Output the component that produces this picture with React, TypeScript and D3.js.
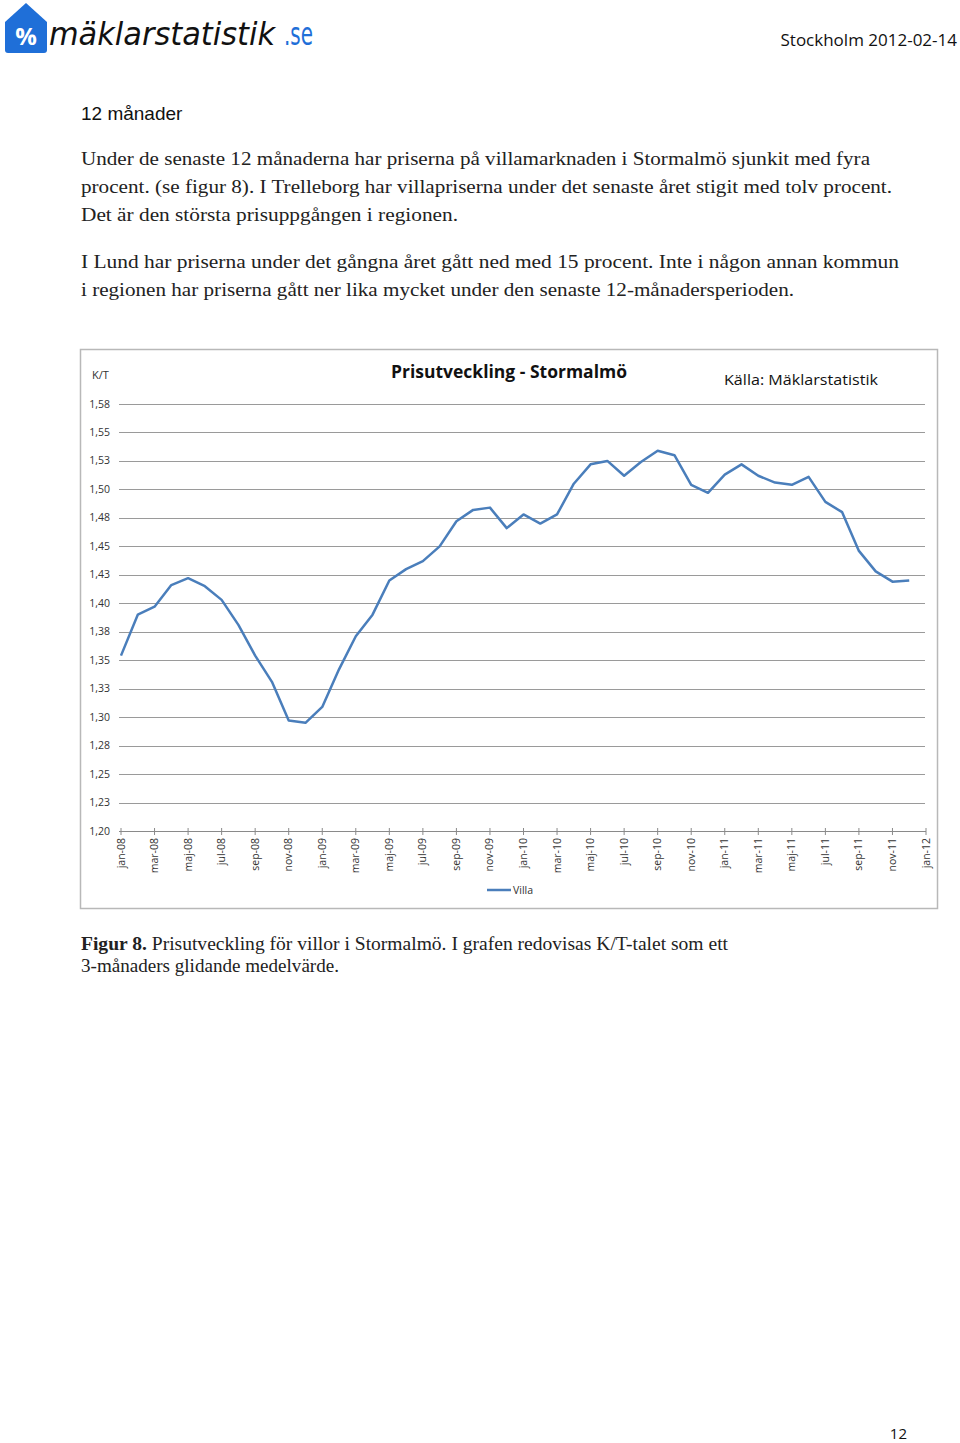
import React from 'react';
import * as d3 from 'd3';

// K/T-tal, 3-månaders glidande medelvärde, villa Stormalmö, jan-08 .. dec-11
const months = [
  'jan-08','feb-08','mar-08','apr-08','maj-08','jun-08','jul-08','aug-08','sep-08','okt-08','nov-08','dec-08',
  'jan-09','feb-09','mar-09','apr-09','maj-09','jun-09','jul-09','aug-09','sep-09','okt-09','nov-09','dec-09',
  'jan-10','feb-10','mar-10','apr-10','maj-10','jun-10','jul-10','aug-10','sep-10','okt-10','nov-10','dec-10',
  'jan-11','feb-11','mar-11','apr-11','maj-11','jun-11','jul-11','aug-11','sep-11','okt-11','nov-11','dec-11',
];
const villa = [
  1.354, 1.390, 1.397, 1.416, 1.422, 1.415, 1.403, 1.381, 1.354, 1.331, 1.297, 1.295,
  1.309, 1.342, 1.371, 1.390, 1.420, 1.430, 1.437, 1.450, 1.472, 1.482, 1.484, 1.466,
  1.478, 1.470, 1.478, 1.505, 1.522, 1.525, 1.512, 1.524, 1.534, 1.530, 1.504, 1.497,
  1.513, 1.522, 1.512, 1.506, 1.504, 1.511, 1.489, 1.480, 1.446, 1.428, 1.419, 1.420,
];
const xTickLabels = [
  'jan-08','mar-08','maj-08','jul-08','sep-08','nov-08','jan-09','mar-09','maj-09','jul-09','sep-09','nov-09',
  'jan-10','mar-10','maj-10','jul-10','sep-10','nov-10','jan-11','mar-11','maj-11','jul-11','sep-11','nov-11','jan-12',
];
const yTickValues = [1.2, 1.225, 1.25, 1.275, 1.3, 1.325, 1.35, 1.375, 1.4, 1.425, 1.45, 1.475, 1.5, 1.525, 1.55, 1.575];
const yTickLabels = ['1,20','1,23','1,25','1,28','1,30','1,33','1,35','1,38','1,40','1,43','1,45','1,48','1,50','1,53','1,55','1,58'];

const bodyLines = [
  { t: 'Under de senaste 12 månaderna har priserna på villamarknaden i Stormalmö sjunkit med fyra', y: 165, w: 789 },
  { t: 'procent. (se figur 8). I Trelleborg har villapriserna under det senaste året stigit med tolv procent.', y: 193, w: 811 },
  { t: 'Det är den största prisuppgången i regionen.', y: 221, w: 377 },
  { t: 'I Lund har priserna under det gångna året gått ned med 15 procent. Inte i någon annan kommun', y: 268, w: 818 },
  { t: 'i regionen har priserna gått ner lika mycket under den senaste 12-månadersperioden.', y: 296, w: 713 },
];

export default function App() {
  const x = d3.scaleLinear().domain([0, 48]).range([121, 926]);
  const y = d3.scaleLinear().domain([1.2, 1.575]).range([831, 404]);
  const line = d3.line<number>().x((_, i) => x(i)).y(d => y(d));
  const sans = 'Open Sans, Liberation Sans, sans-serif';
  const serif = 'Liberation Serif, serif';

  return (
    <div style={{ position: 'absolute', left: 0, top: 0 }}>
      <svg width={960} height={1443} style={{ display: 'block', background: '#fff' }}>
        {/* logo */}
        <path d="M5,22 L26,3 L47,22 L47,50 Q47,53 44,53 L8,53 Q5,53 5,50 Z" fill="#1f6fd8" />
        <text x={26} y={45} textAnchor="middle" fill="#fff" fontFamily={sans} fontWeight="bold" fontSize={24}>%</text>
        <text x={49} y={45} fontFamily="DejaVu Sans, sans-serif" fontSize={32} fill="#111">
          <tspan fontStyle="italic" textLength={226} lengthAdjust="spacingAndGlyphs">mäklarstatistik</tspan>
          <tspan x={284} fill="#1f6fd8" textLength={29} lengthAdjust="spacingAndGlyphs">.se</tspan>
        </text>
        <text x={957} y={46} textAnchor="end" fontFamily={sans} fontSize={17} fill="#111">Stockholm 2012-02-14</text>

        <text x={81} y={120} fontFamily="Liberation Sans, sans-serif" fontSize={19} fill="#111">12 månader</text>
        {bodyLines.map(l => (
          <text key={l.y} x={81} y={l.y} fontFamily={serif} fontSize={19} fill="#222" textLength={l.w} lengthAdjust="spacingAndGlyphs">{l.t}</text>
        ))}

        {/* chart frame */}
        <rect x={80.5} y={349.5} width={857} height={559} fill="#fff" stroke="#b8b8b8" strokeWidth={1.5} />
        <text x={509} y={378} textAnchor="middle" fontFamily={sans} fontWeight="bold" fontSize={17} fill="#111" textLength={236} lengthAdjust="spacingAndGlyphs">Prisutveckling - Stormalmö</text>
        <text x={724} y={385} fontFamily={sans} fontSize={15} fill="#111" textLength={154} lengthAdjust="spacingAndGlyphs">Källa: Mäklarstatistik</text>
        <text x={92} y={379} fontFamily={sans} fontSize={11} fill="#333">K/T</text>

        {yTickValues.map((v, i) => (
          <g key={v}>
            {i > 0 && <line x1={119} x2={925} y1={Math.round(y(v)) + 0.5} y2={Math.round(y(v)) + 0.5} stroke="#9a9a9a" strokeWidth={1} />}
            <text x={110} y={y(v) + 3.5} textAnchor="end" fontFamily={sans} fontSize={10.5} fill="#333">{yTickLabels[i]}</text>
          </g>
        ))}
        <line x1={119} x2={926} y1={831.5} y2={831.5} stroke="#8a8a8a" strokeWidth={1} />
        {xTickLabels.map((lab, i) => {
          const px = x(i * 2);
          return (
            <g key={lab}>
              <line x1={px} x2={px} y1={828} y2={835} stroke="#8a8a8a" strokeWidth={1} />
              <text transform={`translate(${px + 3.5},838) rotate(-90)`} textAnchor="end" fontFamily={sans} fontSize={10.5} fill="#333">{lab}</text>
            </g>
          );
        })}

        <path d={line(villa) ?? ''} fill="none" stroke="#4a7ebb" strokeWidth={2.5} strokeLinejoin="round" />

        {/* legend */}
        <line x1={487} x2={511} y1={890} y2={890} stroke="#4a7ebb" strokeWidth={2.5} />
        <text x={513} y={894} fontFamily={sans} fontSize={10.5} fill="#333">Villa</text>

        {/* caption */}
        <text x={81} y={950} fontFamily={serif} fontSize={19} fill="#222" textLength={647} lengthAdjust="spacingAndGlyphs">
          <tspan fontWeight="bold">Figur 8.</tspan> Prisutveckling för villor i Stormalmö. I grafen redovisas K/T-talet som ett
        </text>
        <text x={81} y={972} fontFamily={serif} fontSize={19} fill="#222" textLength={258} lengthAdjust="spacingAndGlyphs">3-månaders glidande medelvärde.</text>

        <text x={907} y={1439} textAnchor="end" fontFamily={sans} fontSize={15} fill="#111">12</text>
      </svg>
    </div>
  );
}
